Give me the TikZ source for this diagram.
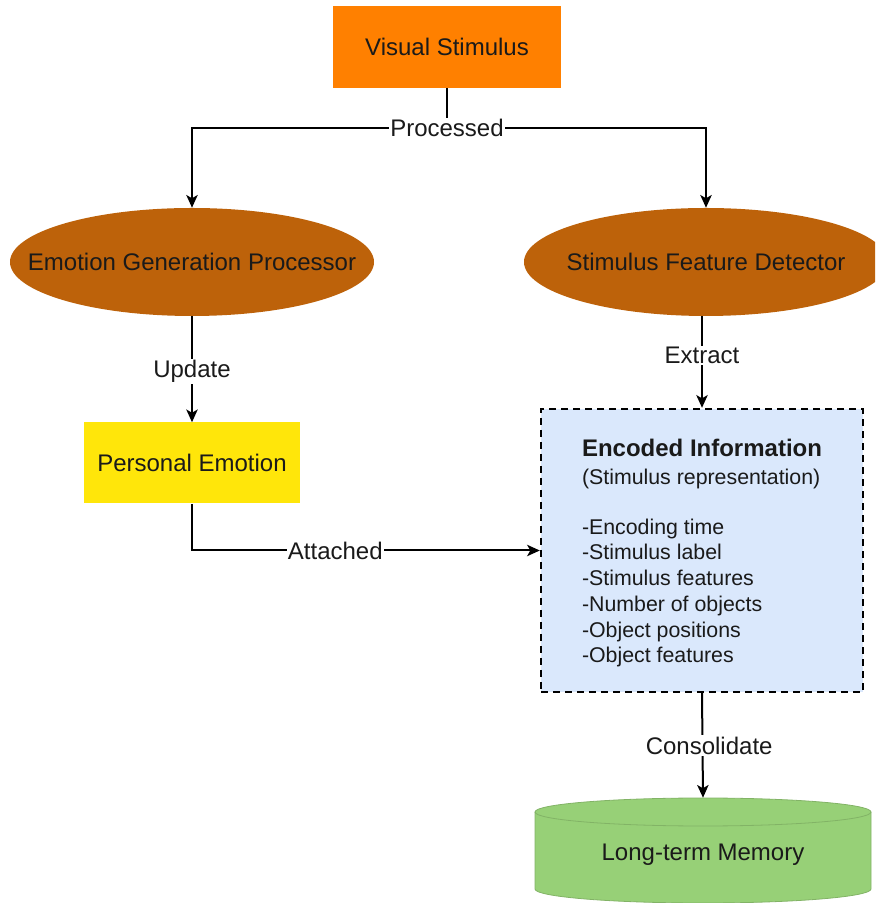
\documentclass[tikz,border=0pt]{standalone}
\usepackage{fontspec}
\setmainfont{Liberation Sans}
\usetikzlibrary{arrows.meta,shapes.geometric,calc}

\definecolor{stimorange}{RGB}{255,128,0}
\definecolor{procbrown}{RGB}{189,98,10}
\definecolor{emoyellow}{RGB}{255,230,10}
\definecolor{encblue}{RGB}{218,232,252}
\definecolor{memgreen}{RGB}{151,208,119}
\definecolor{memborder}{RGB}{130,179,102}
\definecolor{inktext}{RGB}{26,26,26}

\tikzset{
  basefont/.style={font=\fontsize{18}{21}\selectfont, text=inktext},
  rectbox/.style={basefont, rectangle, inner sep=0pt, align=center},
  % processor: the node is the bounding rectangle, the ellipse is filled behind it
  procell/.style={basefont, rectangle, inner sep=0pt,
                  minimum width=273pt, minimum height=81pt},
  conn/.style={line width=1.5pt, draw=black,
               -{Stealth[length=9.5pt, width=8.5pt, inset=2.4pt]}},
  plainconn/.style={line width=1.5pt, draw=black},
  lbl/.style={basefont, fill=white, inner sep=1pt},
}

\begin{document}
\begin{tikzpicture}[x=0.75pt, y=0.75pt]
  \useasboundingbox (0,0) rectangle (875,903);
  \clip (0,0) rectangle (875,903);

  % source stimulus
  \node[rectbox, fill=stimorange, minimum width=171pt, minimum height=61.5pt]
    (vs) at (447,856) {Visual Stimulus};

  % processing stages
  \fill[procbrown] (192,641) ellipse[x radius=182, y radius=54];
  \fill[procbrown] (706,641) ellipse[x radius=182, y radius=54];
  \node[procell] (egp) at (192,641) {Emotion Generation Processor};
  \node[procell] (sfd) at (706,641) {Stimulus Feature Detector};

  \node[rectbox, fill=emoyellow, minimum width=162pt, minimum height=60.75pt]
    (pe) at (192,440) {Personal Emotion};

  % encoded information panel
  \node[rectbox, fill=encblue, draw=black, line width=1.8pt,
        dash pattern=on 5.5pt off 3.5pt,
        minimum width=241.5pt, minimum height=212.25pt]
    (enc) at (702,352.5) {};
  \node[basefont, font=\fontsize{16}{19.3}\selectfont, align=left, inner sep=0pt]
    (enctext) at ($(enc.center)+(0,-2.5)$)
    {{\bfseries\fontsize{18}{21}\selectfont Encoded Information}\\[1.7pt]
     (Stimulus representation)\\[18.2pt]
     -Encoding time\\
     -Stimulus label\\
     -Stimulus features\\
     -Number of objects\\
     -Object positions\\
     -Object features};

  % long-term memory store (cylinder)
  \filldraw[fill=memgreen, draw=memborder, line width=0.6pt]
    (535,91) -- (535,14) arc[start angle=180, end angle=360, x radius=168, y radius=14]
    -- (871,91) arc[start angle=0, end angle=180, x radius=168, y radius=14] -- cycle;
  \draw[memborder, line width=0.6pt]
    (535,91) arc[start angle=180, end angle=360, x radius=168, y radius=14];
  \node[inner sep=0pt, minimum width=252pt, minimum height=78.75pt]
    (mem) at (703,52.5) {};
  \node[basefont, inner sep=0pt] (memtext) at ($(mem.center)+(0,-4)$) {Long-term Memory};

  % connectors
  \coordinate (split) at (vs.south |- 0,775);
  \draw[plainconn] (vs.south) -- (split);
  \draw[conn] (split) -| (egp.north);
  \draw[conn] (split) -| (sfd.north);
  \node[lbl] (proclbl) at (split) {Processed};

  \draw[conn] (egp.south) -- node[lbl, pos=0.52] {Update} (pe.north);
  \draw[conn] (sfd.south -| enc.north) -- node[lbl, pos=0.43] {Extract} (enc.north);
  \draw[conn] (pe.south) |- node[lbl, pos=0.706] {Attached} (enc.west);
  \draw[conn] (enc.south) -- node[lbl, xshift=5pt] {Consolidate} (mem.north);
\end{tikzpicture}
\end{document}
